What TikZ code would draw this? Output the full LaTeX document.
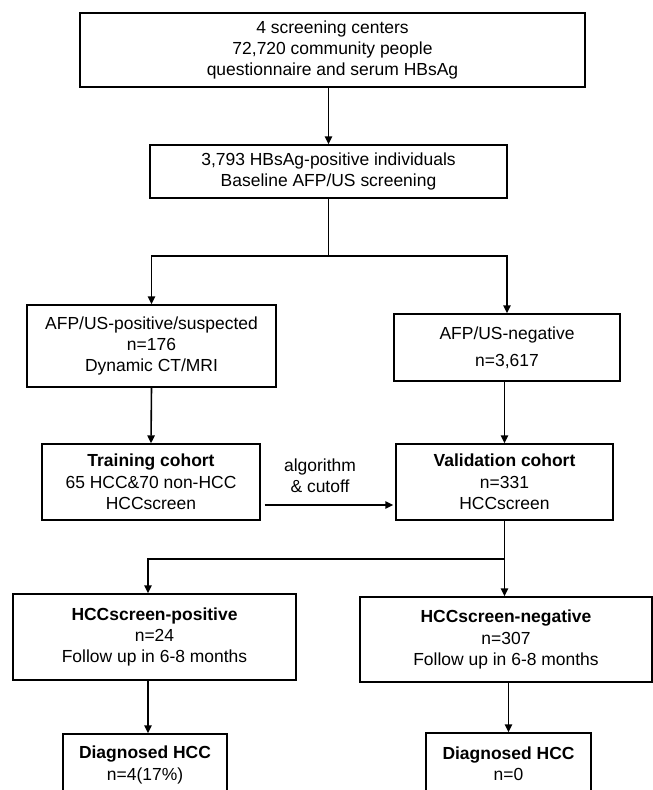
\documentclass[tikz,border=0pt]{standalone}
\usepackage{fontspec}
\setmainfont{Liberation Sans}
\usetikzlibrary{arrows.meta}

\begin{document}
\begin{tikzpicture}[x=0.75pt,y=0.75pt,yscale=-1,xscale=1,
  box/.style={draw, line width=1pt, align=center, inner sep=0pt, font=\fontsize{13.1}{16}\selectfont},
  arr/.style={line width=1.2pt, -{Triangle[length=6pt,width=5.5pt]}},
  plain/.style={align=center, inner sep=0pt, font=\fontsize{13.1}{16}\selectfont}]
%set diagram size 653 x 790
\clip (0,0) rectangle (653,790);

%Shape: Rectangle [id:screening]
\node [box, minimum width=378.75pt, minimum height=55.5pt] (centers) at (332.5,50) {4 screening centers\\72,720 community people\\questionnaire and serum HBsAg};
%Shape: Rectangle [id:carriers]
\node [box, minimum width=267.75pt, minimum height=39.75pt] (carriers) at (328.5,171.5) {3,793 HBsAg-positive individuals\\Baseline AFP/US screening};
%Shape: Rectangle [id:usposit]
\node [box, minimum width=186.75pt, minimum height=61.5pt] (uspos) at (151.5,346) {AFP/US-positive/suspected\\n=176\\Dynamic CT/MRI};
%Shape: Rectangle [id:usneg]
\node [box, minimum width=169.5pt, minimum height=50.25pt] (usneg) at (507,347.5) {AFP/US-negative\\[4pt]n=3,617};
%Shape: Rectangle [id:training]
\node [box, minimum width=163.5pt, minimum height=57pt] (training) at (151,482) {\textbf{Training cohort}\\65 HCC\&70 non-HCC\\HCCscreen};
%Shape: Rectangle [id:validation]
\node [box, minimum width=162.75pt, minimum height=57pt] (validation) at (504.5,482) {\textbf{Validation cohort}\\n=331\\HCCscreen};
%Shape: Rectangle [id:screenpos]
\node [box, minimum width=212.25pt, minimum height=64.5pt] (screenpos) at (154.5,637) {\textbf{HCCscreen-positive}\\n=24\\Follow up in 6-8 months};
%Shape: Rectangle [id:screenneg]
\node [box, minimum width=219pt, minimum height=63.75pt] (screenneg) at (506,639.5) {\textbf{HCCscreen-negative}\\n=307\\Follow up in 6-8 months};
%Shape: Rectangle [id:diagpos]
\node [box, minimum width=123pt, minimum height=46.5pt] (diagpos) at (145,765) {\textbf{Diagnosed HCC}\\n=4(17\%)};
%Shape: Rectangle [id:diagneg]
\node [box, minimum width=123.75pt, minimum height=46.5pt] (diagneg) at (508.5,764) {\textbf{Diagnosed HCC}\\n=0};

% Text Node
\node [plain] (algo) at (320,476) {algorithm\\\& cutoff};

%Forks
\coordinate (forkA) at (329,256);
\coordinate (forkB) at (148,559);

%Straight Lines
\draw [arr] (centers.south -| carriers.north) -- (carriers.north);
\draw [arr] (carriers.south) -- (carriers.south |- forkA) -| (uspos.north);
\draw [arr] (carriers.south) -- (carriers.south |- forkA) -| (usneg.north);
\draw [arr] (uspos.south) -- (training.north);
\draw [arr] (usneg.south -| validation.north) -- (validation.north);
\draw [arr, shorten <=3pt, shorten >=1.5pt] ([yshift=17.25pt]training.east) -- ([yshift=17.25pt]validation.west);
\draw [arr] (validation.south) |- (forkB) -- (forkB |- screenpos.north);
\draw [arr] (validation.south) -- (validation.south |- screenneg.north);
\draw [arr] (screenpos.south -| forkB) -- (forkB |- diagpos.north);
\draw [arr] (screenneg.south -| diagneg.north) -- (diagneg.north);

\end{tikzpicture}
\end{document}
